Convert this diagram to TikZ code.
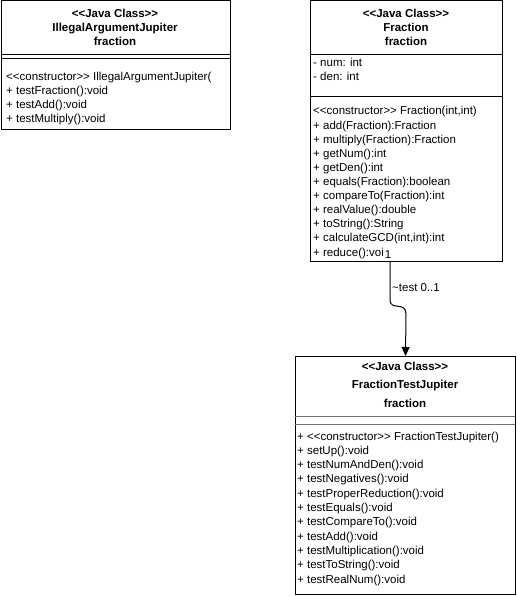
\documentclass[tikz,border=0pt]{standalone}
\usepackage{fontspec}
\newfontfamily\umlfont{Liberation Sans}
\usetikzlibrary{arrows.meta}

\tikzset{
  every node/.style={font=\umlfont\fontsize{11.5}{13}\selectfont, inner sep=0pt},
  classbox/.style={draw=black, line width=1pt, anchor=north west, inner sep=0pt},
  title/.style={font=\umlfont\bfseries\fontsize{11.5}{13}\selectfont, anchor=base},
  member/.style={anchor=base west},
  sep/.style={line width=1pt},
  assoc/.style={line width=1pt, -{Triangle[length=9pt,width=8pt]}}
}

\begin{document}
\begin{tikzpicture}[x=1pt,y=-1pt]
  \useasboundingbox (0,0) rectangle (516,596);

  % Define the class boxes
  \node[classbox, minimum width=229.5pt, minimum height=128.5pt] (illegal) at (0.5,0.5) {};
  \node[classbox, minimum width=191.5pt, minimum height=260.5pt] (fraction) at (310,0.5) {};
  \node[classbox, minimum width=220pt, minimum height=238pt] (test) at (295,356) {};

  % Draw the compartments
  \draw[sep] (0.5,55) -- (230,55);
  \draw[sep] (0.5,59) -- (230,59);
  \draw[sep] (310,55) -- (501.5,55);
  \draw[sep] (310,97) -- (501.5,97);
  \draw[sep, black!55] (295,416) -- (515,416);
  \draw[sep, black!55] (295,424) -- (515,424);

  % Draw the headers
  \foreach \t [count=\i] in {{<<Java Class>>}, IllegalArgumentJupiter, fraction} {
    \node[title] (illegalT\i) at (115,{4+14*\i}) {\t};
  }
  \foreach \t [count=\i] in {{<<Java Class>>}, Fraction, fraction} {
    \node[title] (fractionT\i) at (406,{4+14*\i}) {\t};
  }
  \foreach \t [count=\i] in {{<<Java Class>>}, FractionTestJupiter, fraction} {
    \node[title] (testT\i) at (405,{351.5+18.5*\i}) {\t};
  }

  % Draw the members
  \begin{scope}
    \clip (0.5,60) rectangle (229.5,128.5);
    \foreach \t [count=\i] in {{<<constructor>> IllegalArgumentJupiter(}, {+ testFraction():void},
        {+ testAdd():void}, {+ testMultiply():void}} {
      \node[member] (illegalM\i) at (6,{67+14*\i}) {\t};
    }
  \end{scope}
  \foreach \t [count=\i] in {{- num: int}, {- den: int}} {
    \node[member] (fractionA\i) at (313,{53+14*\i}) {\t};
  }
  \foreach \t [count=\i] in {{<<constructor>> Fraction(int,int)}, {+ add(Fraction):Fraction},
      {+ multiply(Fraction):Fraction}, {+ getNum():int}, {+ getDen():int},
      {+ equals(Fraction):boolean}, {+ compareTo(Fraction):int}, {+ realValue():double},
      {+ toString():String}, {+ calculateGCD(int,int):int}, {+ reduce():voi}} {
    \node[member] (fractionM\i) at (313,{100.9+14.1*\i}) {\t};
  }
  \foreach \t [count=\i] in {{+ <<constructor>> FractionTestJupiter()}, {+ setUp():void},
      {+ testNumAndDen():void}, {+ testNegatives():void}, {+ testProperReduction():void},
      {+ testEquals():void}, {+ testCompareTo():void}, {+ testAdd():void},
      {+ testMultiplication():void}, {+ testToString():void}, {+ testRealNum():void}} {
    \node[member] (testM\i) at (297,{425.7+14.3*\i}) {\t};
  }

  % Draw the association
  \coordinate (start) at (390,261);
  \draw[assoc] (start) -- (390,300) .. controls (390,311) and (406,301) .. (406,314) -- (test.north);
  \node[fill=white, inner sep=0.5pt] (mult) at (388,254.5) {1};
  \node[anchor=west] (role) at (392,288) {\textasciitilde test 0..1};

\end{tikzpicture}
\end{document}
